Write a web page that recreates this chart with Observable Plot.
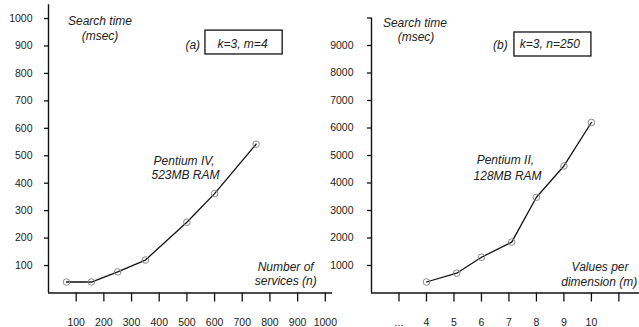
<!DOCTYPE html>
<html><head><meta charset="utf-8">
<script src="https://cdn.jsdelivr.net/npm/d3@7"></script>
<script src="https://cdn.jsdelivr.net/npm/@observablehq/plot@0.6"></script>
<style>
body{margin:0;background:#fff;}
#wrap{position:relative;width:639px;height:327px;overflow:hidden;}
#wrap svg{position:absolute;top:0;overflow:visible;}
</style></head><body><div id="wrap"></div>
<script>
// Panel (a): k=3, m=4
const servicesN = [65, 155, 250, 350, 500, 600, 750];
const timeA = [40, 40, 77, 120, 258, 362, 542];
const xTicksA = [100, 200, 300, 400, 500, 600, 700, 800, 900, 1000];
const yTicksA = [100, 200, 300, 400, 500, 600, 700, 800, 900, 1000];
const notesA = [
  {x: 186, y: 989, text: "Search time", anchor: "middle"},
  {x: 186, y: 934, text: "(msec)", anchor: "middle"},
  {x: 521, y: 902, text: "(a)", anchor: "middle"},
  {x: 701, y: 905, text: "k=3, m=4", anchor: "middle"},
  {x: 490, y: 479, text: "Pentium IV,", anchor: "middle"},
  {x: 495, y: 428, text: "523MB RAM", anchor: "middle"},
  {x: 958, y: 93, text: "Number of", anchor: "end"},
  {x: 969, y: 42, text: "services (n)", anchor: "end"}
];
const boxA = {x1: 567, x2: 846, y1: 869, y2: 956};

// Panel (b): k=3, n=250
const valuesM = [4, 5.1, 6, 7.1, 8, 9, 10];
const timeB = [400, 720, 1300, 1850, 3480, 4620, 6200];
const xTicksB = [3, 4, 5, 6, 7, 8, 9, 10, 11];
const xLabelsB = ["...", "4", "5", "6", "7", "8", "9", "10", ""];
const yTicksB = [1000, 2000, 3000, 4000, 5000, 6000, 7000, 8000, 9000, 10000];
const yLabelsB = ["1000", "2000", "3000", "4000", "5000", "6000", "7000", "8000", "9000", ""];
const notesB = [
  {x: 3.58, y: 9800, text: "Search time", anchor: "middle"},
  {x: 3.62, y: 9290, text: "(msec)", anchor: "middle"},
  {x: 6.69, y: 9000, text: "(b)", anchor: "middle"},
  {x: 8.49, y: 9036, text: "k=3, n=250", anchor: "middle"},
  {x: 6.87, y: 4818, text: "Pentium II,", anchor: "middle"},
  {x: 6.95, y: 4247, text: "128MB RAM", anchor: "middle"},
  {x: 11.35, y: 927, text: "Values per", anchor: "end"},
  {x: 11.67, y: 382, text: "dimension (m)", anchor: "end"}
];
const boxB = {x1: 7.2, x2: 10.0, y1: 8600, y2: 9473};

const font = '"Liberation Sans", Arial, Helvetica, sans-serif';

function panel(o) {
  const data = o.xs.map((x, i) => ({x, y: o.ys[i]}));
  const noteOpts = {x: "x", y: "y", text: "text", fontStyle: "italic", fontSize: 12, fill: "#222"};
  const svg = Plot.plot({
    width: o.width, height: 327,
    marginLeft: o.marginLeft, marginRight: o.marginRight,
    marginTop: o.marginTop, marginBottom: 34.5,
    x: {domain: o.xDomain}, y: {domain: o.yDomain},
    style: {fontFamily: font, fontSize: "10.5px", background: "transparent", color: "#111", overflow: "visible"},
    marks: [
      Plot.ruleX([o.xDomain[0]], {stroke: "#111", strokeWidth: 1.4}),
      Plot.ruleY([0], {stroke: "#111", strokeWidth: 1.4}),
      Plot.axisY({ticks: o.yTicks, tickFormat: o.yFmt, tickSize: 4, tickPadding: o.yPad, fontSize: 10.5, fill: "#222", strokeWidth: 1.3}),
      Plot.axisX({ticks: o.xTicks, tickFormat: o.xFmt, tickSize: 9, tickPadding: 16.5, fontSize: 10.5, fill: "#222", strokeWidth: 1.3}),
      Plot.rect([o.box], {x1: "x1", x2: "x2", y1: "y1", y2: "y2", stroke: "#111", fill: "none", strokeWidth: 1.3}),
      Plot.line(data, {x: "x", y: "y", stroke: "#111", strokeWidth: 1.3}),
      Plot.dot(data, {x: "x", y: "y", r: 3.3, stroke: "#8a8a8a", fill: "none", strokeWidth: 1}),
      Plot.text(o.notes.filter(d => d.anchor === "middle"), {...noteOpts, textAnchor: "middle"}),
      Plot.text(o.notes.filter(d => d.anchor === "end"), {...noteOpts, textAnchor: "end"})
    ]
  });
  svg.style.left = o.left + "px";
  return svg;
}

const wrap = document.getElementById("wrap");
wrap.appendChild(panel({
  left: 0, width: 340, marginLeft: 48, marginRight: 8, marginTop: 4.3,
  xDomain: [0, 1026], yDomain: [0, 1050],
  xs: servicesN, ys: timeA,
  xTicks: xTicksA, xFmt: d => String(d),
  yTicks: yTicksA, yFmt: d => String(d), yPad: 12,
  notes: notesA, box: boxA
}));
wrap.appendChild(panel({
  left: 320, width: 319, marginLeft: 51, marginRight: 0, marginTop: 17.5,
  xDomain: [2, 11.75], yDomain: [0, 10000],
  xs: valuesM, ys: timeB,
  xTicks: xTicksB, xFmt: d => xLabelsB[xTicksB.indexOf(d)],
  yTicks: yTicksB, yFmt: d => yLabelsB[yTicksB.indexOf(d)], yPad: 14,
  notes: notesB, box: boxB
}));
</script></body></html>
